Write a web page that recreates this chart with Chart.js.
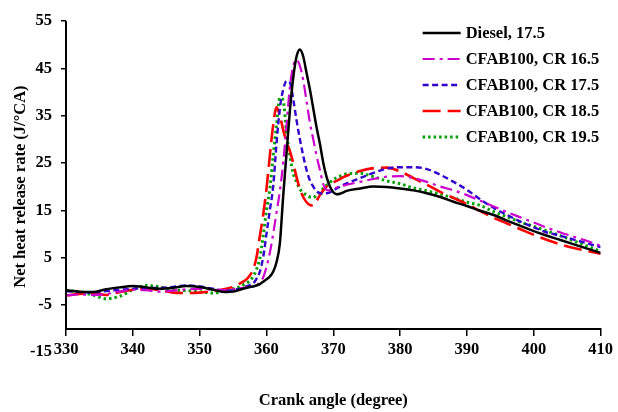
<!DOCTYPE html>
<html lang="en">
<head>
    <meta charset="UTF-8">
    <title>Net heat release rate</title>
    <script src="https://cdn.jsdelivr.net/npm/chart.js"></script>
    <style>
        body { margin: 0; background: #ffffff; }
        .grafico { width: 618px; height: 412px; }
    </style>
</head>
<body>
    <div class="grafico">
        <canvas id="graficoCalor"></canvas>
    </div>
<script>
    // crank angle (degree) - finer step around the combustion peak
    const angulos = [330, 332, 334, 336, 338, 340, 342, 344, 346, 348, 350, 352, 354,
        355, 355.5, 356, 356.5, 357, 357.5, 358, 358.5, 359, 359.5, 360, 360.5, 361, 361.5,
        362, 362.5, 363, 363.5, 364, 364.5, 365, 365.5, 366, 366.5, 367, 367.5, 368, 368.5,
        369, 369.5, 370, 370.5, 371, 371.5, 372,
        374, 376, 378, 380, 382, 384, 386, 388, 390, 392, 394, 396, 398, 400, 402, 404, 406, 408, 410];

    const diesel175 = [-1.9, -2.2, -2.3, -1.7, -1.3, -1.0, -1.3, -1.6, -1.4, -1.0, -1.2, -1.8, -2.3,
        -2.2, -2.0, -1.8, -1.6, -1.4, -1.2, -1.1, -0.9, -0.6, -0.1, 0.4, 1.0, 2.0, 4.0,
        8.0, 18, 27, 36, 43, 47.5, 49, 47.5, 44, 40.5, 36.5, 32.5, 29, 25,
        22, 20, 18.8, 18.4, 18.5, 18.8, 19.1,
        19.6, 20.0, 19.9, 19.6, 19.2, 18.6, 17.8, 16.8, 15.9, 14.9, 14.0, 12.8, 11.7, 10.6, 9.6, 8.7, 7.8, 6.9, 6.0];

    const cr165 = [-3.0, -2.8, -2.9, -2.7, -2.2, -1.8, -1.9, -2.2, -2.0, -1.7, -1.6, -1.8, -1.9,
        -1.7, -1.6, -1.5, -1.4, -1.3, -1.2, -1.1, -0.9, -0.2, 0.8, 3.0, 6.0, 10.0, 14.5,
        19, 25, 33, 41, 45.5, 46.8, 45.5, 42.5, 38, 33.5, 30, 26.5, 23.5, 20.5,
        19.3, 19.2, 19.5, 19.8, 20.0, 20.2, 20.4,
        21.0, 21.6, 22.1, 22.2, 21.8, 21.0, 20.0, 19.2, 18.2, 17.0, 15.8, 14.6, 13.5, 12.4, 11.3, 10.3, 9.4, 8.5, 7.5];

    const cr175 = [-2.1, -2.3, -2.4, -2.1, -1.8, -1.6, -1.4, -1.4, -1.2, -0.9, -1.1, -1.6, -2.0,
        -1.9, -1.7, -1.6, -1.4, -1.1, -0.8, -0.5, 0.5, 2.0, 5.0, 10.0, 15, 20, 29,
        36.5, 40.5, 42.3, 42.0, 38.5, 34, 30, 26.5, 23.5, 21.3, 20.0, 19.0, 18.6, 18.5,
        18.6, 18.8, 19.2, 19.6, 20.0, 20.4, 20.7,
        21.8, 22.9, 23.8, 24.1, 24.1, 23.7, 22.5, 21.0, 19.3, 17.3, 15.5, 14.0, 12.6, 11.4, 10.3, 9.6, 8.8, 8.0, 7.2];

    const cr185 = [-3.0, -2.7, -2.5, -2.9, -2.3, -1.8, -1.6, -1.9, -2.4, -2.5, -2.4, -2.1, -1.6,
        -1.2, -0.9, -0.5, -0.1, 0.4, 1.2, 2.5, 5.0, 9.5, 14.0, 19.5, 26.5, 33, 36.8,
        35, 32, 29.5, 27.5, 25, 22, 19.5, 17.8, 16.7, 16.1, 16.0, 17.0, 18.2, 19.2,
        20.0, 20.5, 20.9, 21.2, 21.6, 22.0, 22.3,
        23.3, 23.9, 24.0, 23.2, 21.8, 20.4, 18.9, 17.6, 16.3, 14.8, 13.4, 12.2, 11.0, 9.8, 8.7, 7.8, 7.0, 6.4, 5.8];

    const cr195 = [-1.9, -2.3, -2.9, -3.7, -3.2, -1.8, -0.9, -1.2, -1.8, -2.0, -2.2, -2.5, -2.0,
        -1.6, -1.4, -1.2, -0.8, -0.4, 0.1, 1.0, 2.5, 4.8, 9.5, 15, 19.5, 26.5, 33,
        38.8, 38.2, 31.5, 26.5, 22.8, 21.0, 19.5, 18.7, 18.2, 17.8, 17.7, 18.2, 18.9, 19.6,
        20.3, 20.9, 21.5, 21.9, 22.2, 22.5, 22.7,
        22.8, 22.1, 21.2, 20.6, 19.7, 19.1, 18.4, 17.6, 16.7, 16.0, 14.7, 13.6, 12.5, 11.6, 10.6, 9.6, 8.5, 7.4, 6.3];

    const nomes = ['Diesel, 17.5', 'CFAB100, CR 16.5', 'CFAB100, CR 17.5', 'CFAB100, CR 18.5', 'CFAB100, CR 19.5'];
    const series = [diesel175, cr165, cr175, cr185, cr195];
    const cores = ['#000000', '#cc00cc', '#3300cc', '#ff0000', '#00a000'];
    const tracos = [[], [12, 5, 3, 5], [6, 3.5], [18, 7], [2.5, 3]];
    const larguras = [2.5, 2.2, 2.4, 2.6, 3];

    // x axis crosses the y axis at -10 (as in the original figure)
    const cruzamentoX = -10;
    const fonte = { family: '"Liberation Serif", "Times New Roman", serif', size: 16.5, weight: 'bold' };

    var dados = {
        datasets: series.map(function (valores, i) {
            return {
                label: nomes[i],
                data: valores.map(function (v, j) { return { x: angulos[j], y: v }; }),
                borderColor: cores[i],
                backgroundColor: cores[i],
                borderDash: tracos[i],
                borderWidth: larguras[i],
                pointRadius: 0,
                fill: false,
                cubicInterpolationMode: 'monotone'
            };
        })
    };

    // legend drawn inside the plot, top right
    const legendaInterna = {
        id: 'legendaInterna',
        afterDatasetsDraw(chart) {
            const ctx = chart.ctx;
            const area = chart.chartArea;
            ctx.save();
            ctx.font = 'bold 16.5px "Liberation Serif", "Times New Roman", serif';
            ctx.textBaseline = 'middle';
            chart.data.datasets.forEach(function (ds, i) {
                const y = area.top + 12 + i * 26;
                const x0 = area.right - 178;
                ctx.beginPath();
                ctx.setLineDash(ds.borderDash);
                ctx.strokeStyle = ds.borderColor;
                ctx.lineWidth = ds.borderWidth;
                ctx.moveTo(x0, y);
                ctx.lineTo(x0 + 38, y);
                ctx.stroke();
                ctx.setLineDash([]);
                ctx.fillStyle = '#000';
                ctx.fillText(ds.label, x0 + 43, y + 1);
            });
            ctx.restore();
        }
    };

    // vertical axis line only down to the x axis
    const eixoY = {
        id: 'eixoY',
        afterDraw(chart) {
            const ctx = chart.ctx;
            const sy = chart.scales.y;
            const xPix = chart.chartArea.left;
            ctx.save();
            ctx.beginPath();
            ctx.strokeStyle = '#000';
            ctx.lineWidth = 2;
            ctx.moveTo(xPix, sy.getPixelForValue(sy.max));
            ctx.lineTo(xPix, sy.getPixelForValue(cruzamentoX) + 1);
            ctx.stroke();
            ctx.restore();
        }
    };

    const config = {
        type: 'line',
        data: dados,
        plugins: [legendaInterna, eixoY],
        options: {
            responsive: true,
            maintainAspectRatio: false,
            animation: false,
            layout: { padding: { top: 21, right: 15, bottom: 0, left: 0 } },
            plugins: {
                legend: { display: false },
                tooltip: { enabled: false },
                title: {
                    display: true,
                    position: 'bottom',
                    fullSize: false,
                    text: 'Crank angle (degree)',
                    color: '#000',
                    font: fonte,
                    padding: { top: 39, bottom: 1 }
                }
            },
            scales: {
                x: {
                    type: 'linear',
                    min: 330,
                    max: 410,
                    position: { y: cruzamentoX },
                    ticks: { stepSize: 10, color: '#000', font: fonte, padding: 5 },
                    grid: { drawOnChartArea: false, drawTicks: true, tickLength: 6, color: '#000', lineWidth: 1.5 },
                    border: { display: true, color: '#000', width: 2 }
                },
                y: {
                    type: 'linear',
                    min: -15,
                    max: 55,
                    ticks: { stepSize: 10, color: '#000', font: fonte, padding: 9 },
                    grid: {
                        drawOnChartArea: false,
                        drawTicks: true,
                        tickLength: 5,
                        lineWidth: 1.5,
                        color: function (c) {
                            return (c.tick && c.tick.value < cruzamentoX) ? 'rgba(0,0,0,0)' : '#000';
                        }
                    },
                    border: { display: false },
                    title: {
                        display: true,
                        text: 'Net heat release rate (J/°CA)',
                        color: '#000',
                        font: fonte,
                        padding: { top: 11, bottom: 0 }
                    },
                    afterFit: function (escala) { escala.width = 66; }
                }
            }
        }
    };

    let grafico = new Chart(document.getElementById('graficoCalor'), config);
</script>
</body>
</html>
